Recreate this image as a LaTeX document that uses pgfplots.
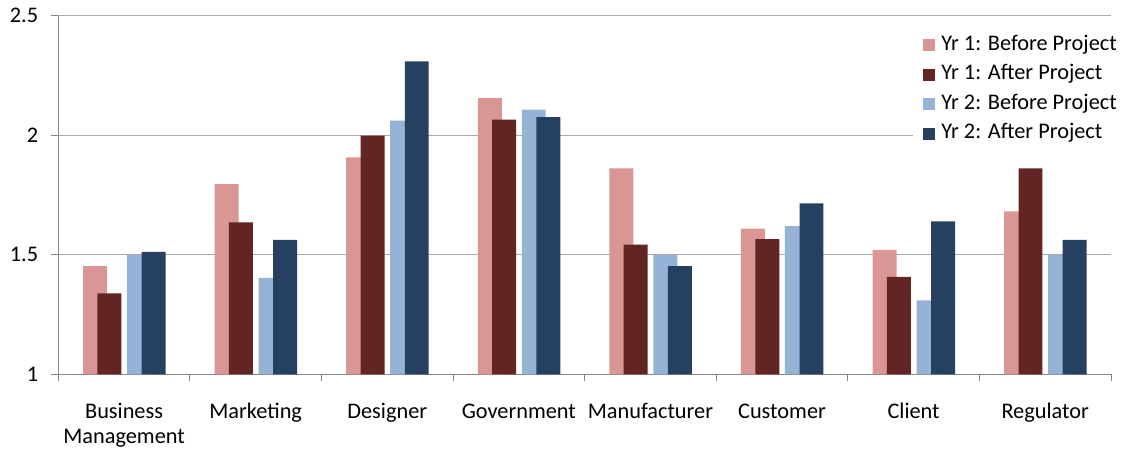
\documentclass[border=0pt]{standalone}
\usepackage{pgfplots}
\pgfplotsset{compat=1.18}
\usepackage{fontspec}
\setmainfont{Carlito}
\definecolor{cA}{RGB}{217,150,148}
\definecolor{cB}{RGB}{99,37,35}
\definecolor{cC}{RGB}{149,179,215}
\definecolor{cD}{RGB}{37,64,97}
\definecolor{gridc}{RGB}{170,170,170}
\definecolor{axc}{RGB}{134,134,134}
\newcommand\lS{\rule{0pt}{16.5bp}}
\begin{document}
\fontsize{22.3bp}{25bp}\selectfont
\begin{tikzpicture}
\path[use as bounding box] (0,0) rectangle (1123bp,450bp);
\begin{axis}[
  at={(58.3bp,75.7bp)}, anchor=south west,
  width=1052.7bp, height=358.6bp, scale only axis,
  xmin=-0.5, xmax=7.5, ymin=1, ymax=2.5,
  axis x line*=bottom, axis y line*=left,
  axis line style={draw=axc, line width=0.8bp, -},
  xtick={-0.5,0.5,...,7.5}, xticklabels={},
  extra x ticks={0,1,2,3,4,5,6,7},
  extra x tick labels={\lS Business\\Management,\lS Marketing,\lS Designer,\lS Government,\lS Manufacturer,\lS Customer,\lS Client,\lS Regulator},
  extra x tick style={major tick length=0pt, grid=none,
     xticklabel style={align=center, anchor=north, inner sep=0pt, yshift=-27.7bp}},
  ytick={1,1.5,2,2.5}, yticklabels={1,1.5,2,2.5},
  yticklabel style={anchor=east, inner sep=0pt, xshift=-13bp},
  tick align=outside, major tick length=7bp,
  tick style={draw=axc, line width=0.8bp},
  ymajorgrids, grid style={draw=gridc, line width=0.9bp},
  ybar, bar width=0.182,
  legend cell align=left,
  legend style={at={(0.812,0.955)}, anchor=north west, draw=none, fill=white,
     inner xsep=10bp, inner ysep=3bp, row sep=9.6bp,
     nodes={inner sep=0pt, text height=15bp, text depth=5bp}},
  legend image code/.code={\path[#1, draw=none] (0bp,-6bp) rectangle (12bp,6bp); \path (18bp,0bp);},
]
\addplot[fill=cA, draw=none, bar shift=-0.221] coordinates {(0,1.452) (1,1.795) (2,1.907) (3,2.155) (4,1.861) (5,1.609) (6,1.520) (7,1.682)};
\addplot[fill=cB, draw=none, bar shift=-0.112] coordinates {(0,1.339) (1,1.636) (2,1.998) (3,2.065) (4,1.542) (5,1.565) (6,1.407) (7,1.861)};
\addplot[fill=cC, draw=none, bar shift=0.113] coordinates {(0,1.499) (1,1.403) (2,2.061) (3,2.107) (4,1.499) (5,1.620) (6,1.309) (7,1.499)};
\addplot[fill=cD, draw=none, bar shift=0.224] coordinates {(0,1.512) (1,1.562) (2,2.309) (3,2.076) (4,1.452) (5,1.715) (6,1.640) (7,1.562)};
\legend{Yr 1: Before Project,Yr 1: After Project,Yr 2: Before Project,Yr 2: After Project}
\end{axis}
\end{tikzpicture}
\end{document}
